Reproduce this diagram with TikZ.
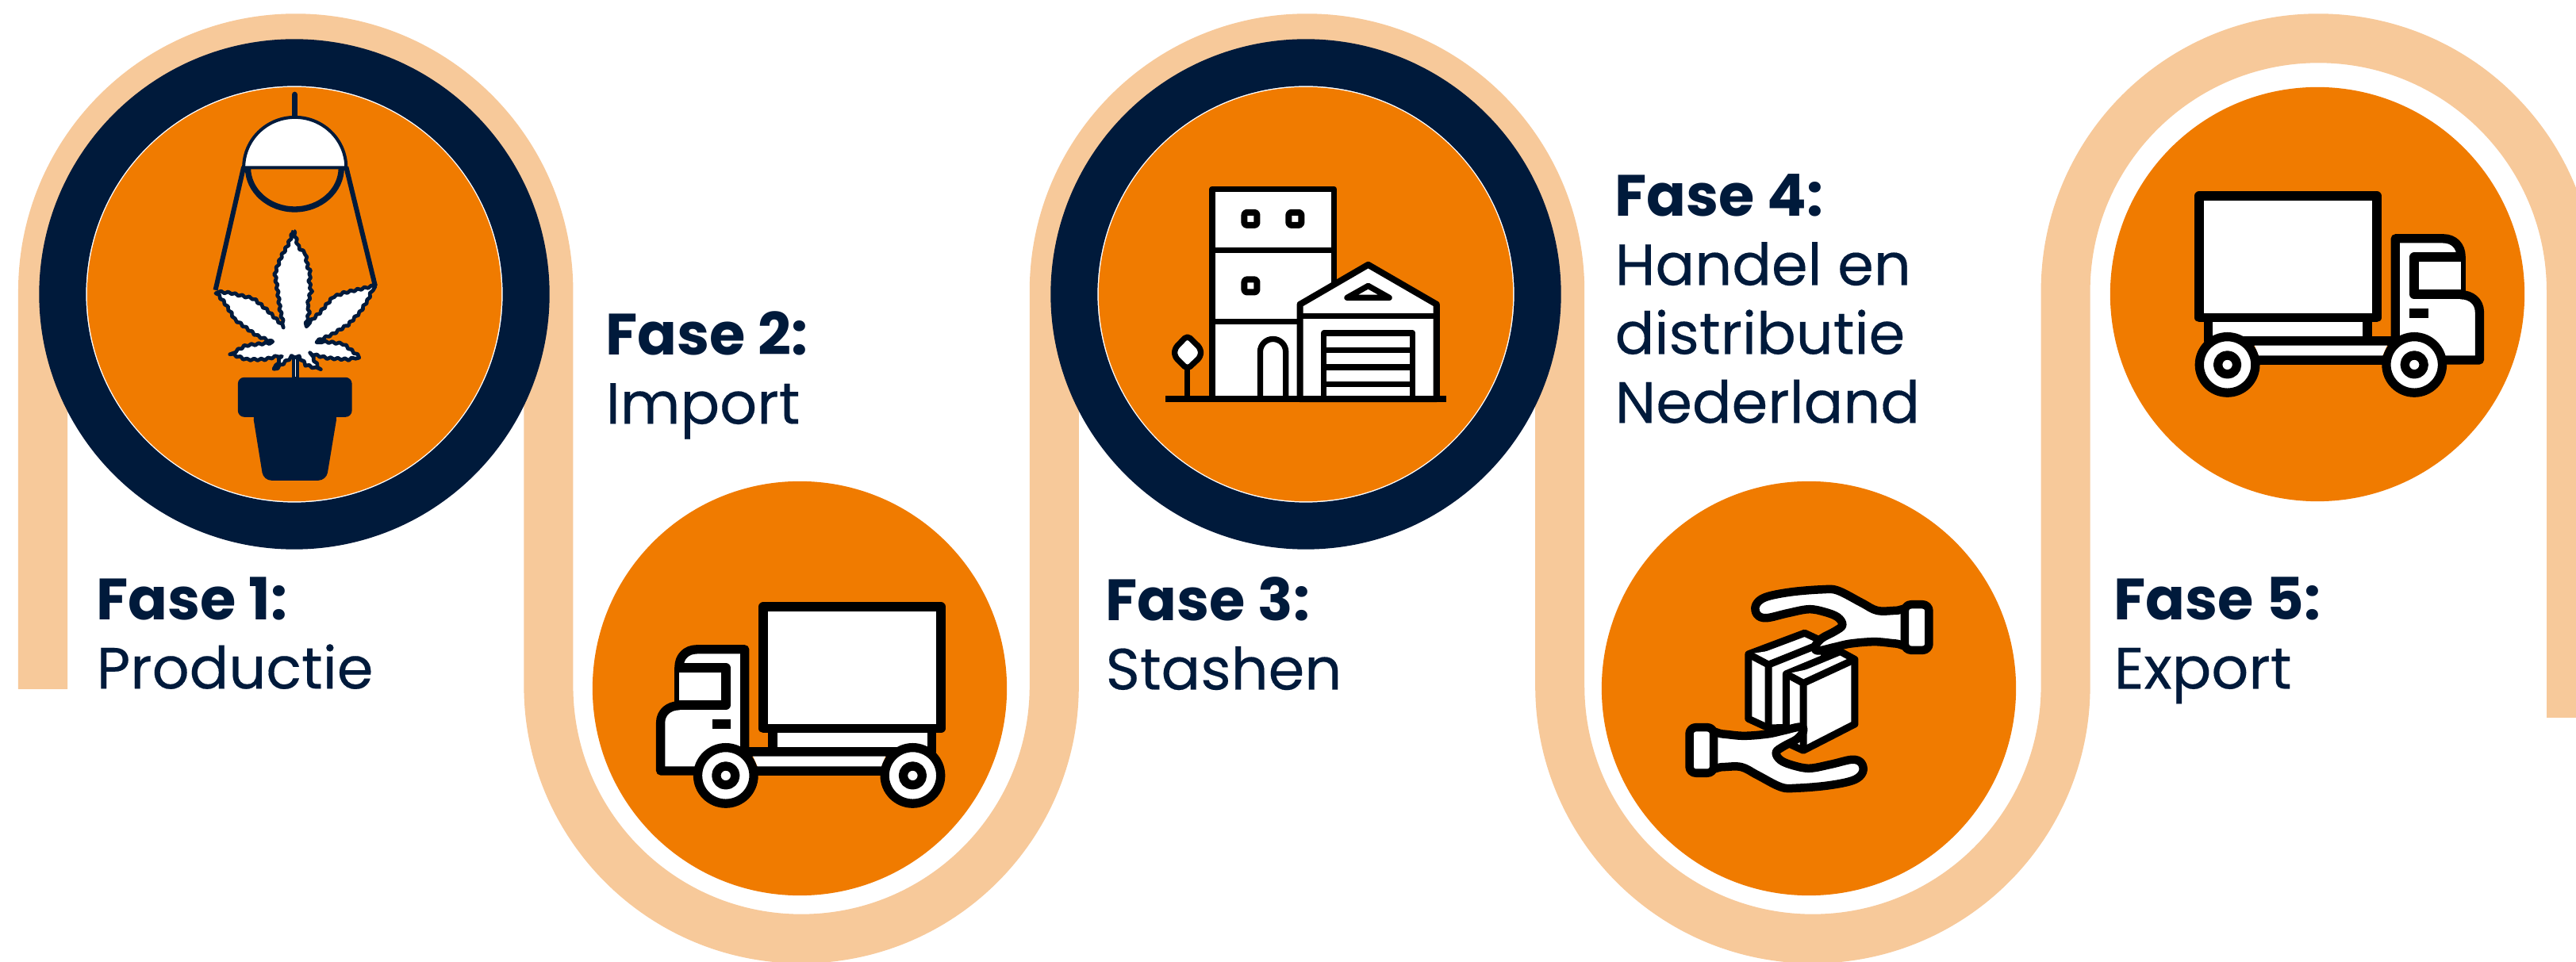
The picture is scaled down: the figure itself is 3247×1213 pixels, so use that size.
\documentclass[tikz,border=0pt]{standalone}
\usepackage{fontspec}
\setmainfont{Poppins}[FakeBold=0.25,BoldFeatures={FakeBold=0}]
\usetikzlibrary{decorations.pathmorphing}
\definecolor{mynavy}{HTML}{001A3B}
\definecolor{myorange}{HTML}{F07B00}
\definecolor{mypeach}{HTML}{F7C99A}

\begin{document}
\begin{tikzpicture}[
    x=0.01cm, y=-0.01cm,
    ribbon/.style={draw=mypeach,line width=0.62cm},
    fasecircle/.style={circle,fill=myorange,inner sep=0pt,minimum size=5.22cm},
    navyring/.style={circle,fill=white,draw=mynavy,line width=0.59cm,inner sep=0pt,minimum size=5.84cm},
    fasetext/.style={anchor=north west,align=left,text=mynavy,font=\fontsize{20.9}{24.7}\selectfont,inner sep=0pt},
    icon/.style={x=0.00333cm,y=-0.00333cm,line join=round},
    ink/.style={draw=black,fill=white,line width=0.113cm},
    truck/.pic={
      \begin{scope}[icon]
        \draw[ink] (517,135) rectangle (1190,597); % cargo box
        \draw[ink] (553,597) rectangle (1155,685);
        \draw[ink] (447,757) -- (128,757) -- (128,575)
          .. controls (128,535) and (160,510) .. (198,510) -- (198,365)
          .. controls (198,325) and (225,297) .. (265,297) -- (447,297) -- cycle; % cab
        \draw[black,line width=0.113cm] (447,685) -- (1060,685) (447,757) -- (1000,757);
        \draw[ink] (198,367) -- (376,367) -- (376,508) -- (198,508);
        \fill[black] (323,562) rectangle (393,597);
        \fill[white] (478,702) -- (980,702) -- (965,740) -- (495,740) -- cycle;
        \draw[ink] (375,775) circle[radius=106];
        \draw[ink] (1083,775) circle[radius=106];
        \draw[ink] (375,775) circle[radius=36];
        \draw[ink] (1083,775) circle[radius=36];
      \end{scope}
    },
    palm/.pic={
      \begin{scope}[icon]
        \draw[ink,line width=0.105cm] plot[smooth cycle,tension=.6] coordinates {(930,180) (870,180) (800,180) (740,150) (650,104)
          (590,100) (470,110) (375,130) (340,160) (345,195) (380,208) (460,190) (540,175) (600,185)
          (650,205) (668,235) (640,258) (590,285) (565,315) (575,332) (640,318) (700,305) (790,298)
          (870,305) (930,308)};
        \draw[ink,line width=0.105cm,rounded corners=0.08cm] (904,157) rectangle (996,330); % cuff
      \end{scope}
    }
    ]
  \useasboundingbox (0,0) rectangle (3247,1213);
  \clip (0,0) rectangle (3247,1213);
  \fill[white] (0,0) rectangle (3247,1213);

  \draw[ribbon] (54,869) -- (54,367) arc[start angle=180,end angle=360,radius=318.7]
    -- (691.4,865) arc[start angle=180,end angle=0,radius=318.7]
    -- (1328.8,367) arc[start angle=180,end angle=360,radius=318.7]
    -- (1966.2,865) arc[start angle=180,end angle=0,radius=318.7]
    -- (2603.6,367) arc[start angle=180,end angle=360,radius=318.7]
    -- (3241,905);

  \node[navyring] (ring1) at (371,371) {};
  \node[navyring] (ring3) at (1646,371) {};
  \node[fasecircle] (fase1) at (371,371) {};
  \node[fasecircle] (fase2) at (1008,868) {};
  \node[fasecircle] (fase3) at (1646,371) {};
  \node[fasecircle] (fase4) at (2280,868) {};
  \node[fasecircle] (fase5) at (2921,371) {};

  \node[fasetext] (tekst1) at (121,727) {\textbf{Fase 1:}\\Productie};
  \node[fasetext] (tekst2) at (763,392) {\textbf{Fase 2:}\\Import};
  \node[fasetext] (tekst3) at (1393,727) {\textbf{Fase 3:}\\Stashen};
  \node[fasetext] (tekst4) at (2035,219) {\textbf{Fase 4:}\\Handel en\\distributie\\Nederland};
  \node[fasetext] (tekst5) at (2664,727) {\textbf{Fase 5:}\\Export};

  % lamp and plant
  \begin{scope}[shift={(200,80)},icon,y=-0.00357cm,draw=mynavy]
    \draw[line width=0.073cm,line cap=round] (515,110) -- (515,190);
    \draw[line width=0.073cm] (338,368) arc[x radius=177,y radius=147,start angle=180,end angle=0];
    \draw[fill=white,line width=0.04cm] (322,368) arc[x radius=194,y radius=178,start angle=180,end angle=360] -- cycle;
    \draw[line width=0.06cm] (322,365) -- (215,800) (710,365) -- (820,785);
    \fill[mynavy] (505,1040) rectangle (532,1115);
    \draw[white,line width=0.015cm] (518,1045) -- (518,1105);
    \draw[fill=white,line width=0.047cm,decorate,decoration={zigzag,segment length=0.09cm,amplitude=0.012cm}]
      (511,590) -- (530,650) -- (555,670) -- (565,720) -- (575,735) -- (570,770) -- (577,800) -- (565,850)
      -- (570,880) -- (557,925) -- (610,880) -- (660,825) -- (700,810) -- (770,795) -- (815,785)
      -- (795,830) -- (765,875) -- (720,920) -- (660,955) -- (600,980) -- (660,985) -- (700,990)
      -- (760,1035) -- (720,1045) -- (640,1040) -- (575,1025) -- (610,1080) -- (560,1065) -- (530,1035)
      -- (505,1035) -- (470,1060) -- (440,1080) -- (465,1030) -- (400,1045) -- (330,1045)
      -- (275,1025) -- (330,995) -- (435,985) -- (370,960) -- (290,905) -- (250,845) -- (215,805)
      -- (270,810) -- (360,830) -- (410,870) -- (475,930) -- (460,870) -- (450,800) -- (440,740)
      -- (465,680) -- (490,640) -- cycle;
    \fill[mynavy,rounded corners=0.08cm] (300,1108) rectangle (732,1248);
    \fill[mynavy,rounded corners=0.1cm] (355,1230) -- (678,1230) -- (635,1472) -- (397,1472) -- cycle;
  \end{scope}

  \pic at (790,720) {truck};
  \pic[xscale=-1] at (3168,202) {truck};

  % warehouse
  \begin{scope}[shift={(1440,210)},icon]
    \draw[ink,line width=0.073cm] (264,881) -- (264,85) -- (725,85) -- (725,881) -- cycle;
    \draw[ink,line width=0.073cm] (264,318) -- (725,318) (264,587) -- (597,587);
    \foreach \winx/\winy in {410/198,578/198,410/452}
      \draw[ink,line width=0.08cm,rounded corners=0.03cm] (\winx-24,\winy-24) rectangle (\winx+24,\winy+24);
    \draw[ink,line width=0.073cm] (446,881) -- (446,702) arc[radius=48.5,start angle=180,end angle=360] -- (543,881);
    \draw[ink,line width=0.08cm] (597,881) -- (597,522) -- (855,372) -- (1114,522) -- (1114,881) -- cycle;
    \draw[ink,line width=0.073cm] (597,566) -- (1114,566);
    \draw[ink,line width=0.073cm] (775,497) -- (855,452) -- (935,497) -- cycle;
    \draw[ink,line width=0.073cm] (687,881) -- (687,631) -- (1024,631) -- (1024,881);
    \draw[ink,line width=0.073cm] (687,695) -- (1024,695) (687,760) -- (1024,760) (687,825) -- (1024,825);
    \draw[ink,line width=0.073cm,rounded corners=0.05cm] (170,640) -- (221,690) -- (221,720) -- (170,768) -- (122,720) -- (122,690) -- cycle;
    \draw[black,line width=0.073cm] (170,768) -- (170,881);
    \fill[black] (87,869) rectangle (1150,893);
  \end{scope}

  % boxes and hands
  \begin{scope}[shift={(2100,710)},icon,draw=black]
    \draw[ink,line width=0.09cm] (312,345) -- (525,265) -- (600,300) -- (600,620) -- (388,625) -- (312,590) -- cycle;
    \draw[ink,line width=0.09cm] (312,345) -- (388,385) -- (600,300) (388,385) -- (388,625);
    \draw[ink,line width=0.09cm] (455,420) -- (660,335) -- (715,365) -- (715,610) -- (520,710) -- (455,680) -- cycle;
    \draw[ink,line width=0.09cm] (455,420) -- (520,455) -- (715,365) (520,455) -- (520,710);
  \end{scope}
  \pic at (2100,710) {palm};
  \pic[rotate=180] at (2461,1027) {palm};
\end{tikzpicture}
\end{document}
